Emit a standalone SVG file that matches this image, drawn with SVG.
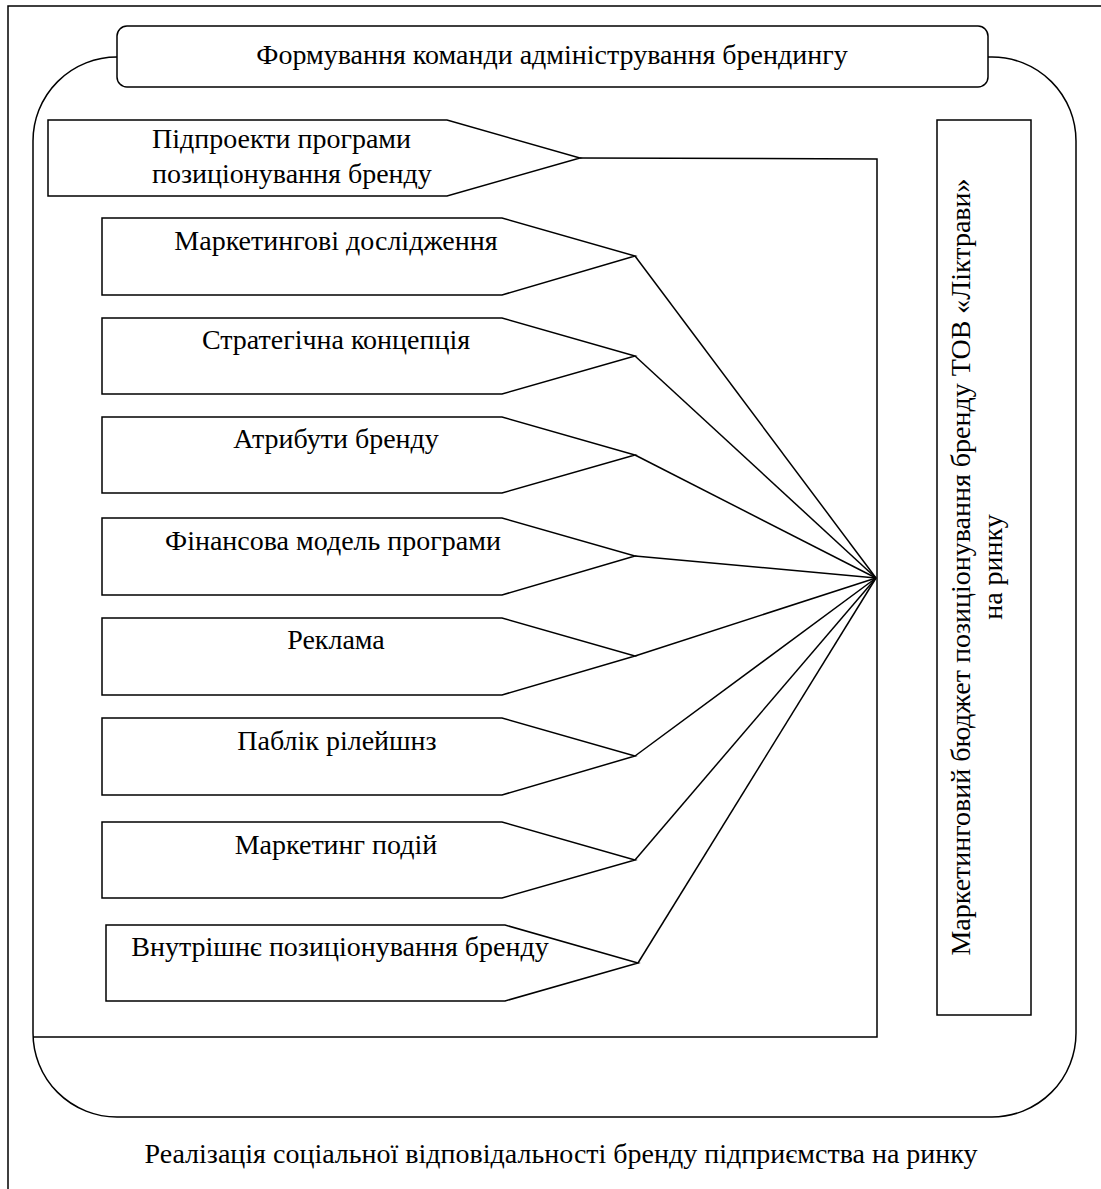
<svg xmlns="http://www.w3.org/2000/svg" width="1101" height="1189" viewBox="0 0 1101 1189">
<style>
.ln{fill:none;stroke:#000;stroke-width:1.5}
.bx{fill:#fff;stroke:#000;stroke-width:1.5}
.t{font-family:"Liberation Serif","Times New Roman",serif;font-size:28px;fill:#000}
.m{text-anchor:middle}
</style>
<rect x="0" y="0" width="1101" height="1189" fill="#fff"/>
<g id="frame">
<path class="ln" d="M8,1189 V6 H1101"/>
</g>
<g id="outer-shape">
<rect class="ln" x="33" y="57" width="1043" height="1060" rx="84" ry="84"/>
</g>
<g id="top-node">
<rect class="bx" x="117" y="26" width="871" height="61" rx="10" ry="10"/>
<text class="t m" x="552" y="64">Формування команди адміністрування брендингу</text>
</g>
<g id="connectors">
<polyline class="ln" points="580,158 877,159 877,1037 33,1037"/>
<line class="ln" x1="635" y1="256" x2="876" y2="578"/>
<line class="ln" x1="635" y1="356" x2="876" y2="578"/>
<line class="ln" x1="635" y1="455" x2="876" y2="578"/>
<line class="ln" x1="635" y1="556" x2="876" y2="578"/>
<line class="ln" x1="635" y1="656" x2="876" y2="578"/>
<line class="ln" x1="635" y1="756" x2="876" y2="578"/>
<line class="ln" x1="635" y1="860" x2="876" y2="578"/>
<line class="ln" x1="638" y1="963" x2="876" y2="578"/>
</g>
<g id="n1">
<polygon class="bx" points="48,120 447,120 580,158 447,196 48,196"/>
<text class="t" x="152" y="148">Підпроекти програми</text>
<text class="t" x="152" y="183">позиціонування бренду</text>
</g>
<g id="n2">
<polygon class="bx" points="102,218 502,218 635,256 502,295 102,295"/>
<text class="t m" x="336" y="250">Маркетингові дослідження</text>
</g>
<g id="n3">
<polygon class="bx" points="102,318 502,318 635,356 502,394 102,394"/>
<text class="t m" x="336" y="349">Стратегічна концепція</text>
</g>
<g id="n4">
<polygon class="bx" points="102,417 502,417 635,455 502,493 102,493"/>
<text class="t m" x="336" y="448">Атрибути бренду</text>
</g>
<g id="n5">
<polygon class="bx" points="102,518 502,518 635,556 502,595 102,595"/>
<text class="t m" x="333" y="550">Фінансова модель програми</text>
</g>
<g id="n6">
<polygon class="bx" points="102,618 502,618 635,656 502,695 102,695"/>
<text class="t m" x="336" y="649">Реклама</text>
</g>
<g id="n7">
<polygon class="bx" points="102,718 502,718 635,756 502,795 102,795"/>
<text class="t m" x="337" y="750">Паблік рілейшнз</text>
</g>
<g id="n8">
<polygon class="bx" points="102,822 502,822 635,860 502,898 102,898"/>
<text class="t m" x="336" y="854">Маркетинг подій</text>
</g>
<g id="n9">
<polygon class="bx" points="106,925 505,925 638,963 505,1001 106,1001"/>
<text class="t m" x="340" y="956">Внутрішнє позиціонування бренду</text>
</g>
<g id="budget">
<rect class="bx" x="937" y="120" width="94" height="895"/>
<g transform="translate(970,567) rotate(-90)">
<text class="t m" x="0" y="0">Маркетинговий бюджет позиціонування бренду ТОВ «Ліктрави»</text>
<text class="t m" x="0" y="32">на ринку</text>
</g>
</g>
<g id="bottom-label">
<text class="t m" x="561" y="1163">Реалізація соціальної відповідальності бренду підприємства на ринку</text>
</g>
</svg>
